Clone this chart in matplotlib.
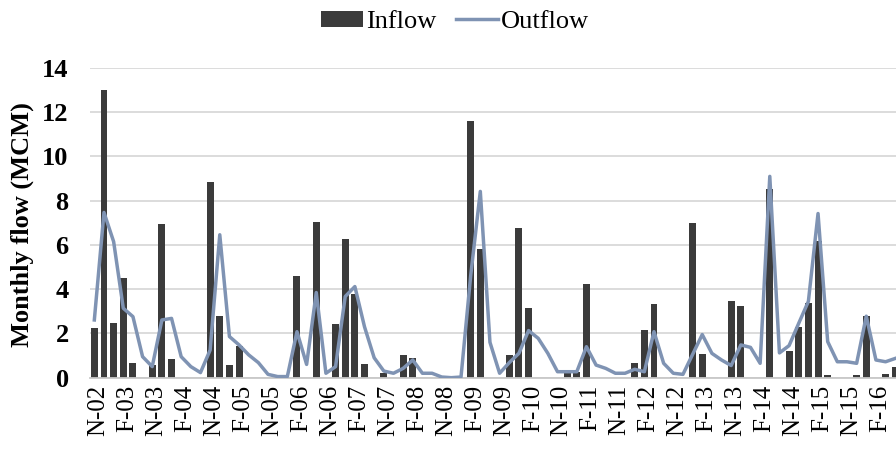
import numpy as np
import matplotlib
matplotlib.use('Agg')
import matplotlib.pyplot as plt
import matplotlib.transforms as mtransforms

# wet-season months (Nov..Apr) from Nov 2002 to Apr 2016
inflow = [2.25, 13.0, 2.45, 4.5, 0.65, 0,
          0.57, 6.97, 0.83, 0, 0, 0,
          8.86, 2.78, 0.56, 1.43, 0, 0,
          0, 0, 0, 4.58, 0, 7.03,
          0, 2.43, 6.27, 3.8, 0.6, 0,
          0.2, 0, 1.03, 0.87, 0, 0,
          0, 0, 0, 11.6, 5.81, 0,
          0, 1.03, 6.76, 3.14, 0, 0,
          0, 0.25, 0.25, 4.22, 0, 0,
          0, 0, 0.65, 2.16, 3.33, 0,
          0.05, 0, 6.98, 1.07, 0, 0,
          3.48, 3.24, 0, 0, 8.55, 0,
          1.22, 2.31, 3.36, 6.2, 0.12, 0,
          0, 0.12, 2.79, 0, 0.18, 0.5]

outflow = [2.61, 7.47, 6.15, 3.14, 2.76, 0.95,
           0.5, 2.61, 2.68, 0.95, 0.5, 0.23,
           1.25, 6.46, 1.86, 1.48, 1.03, 0.68,
           0.15, 0.05, 0.05, 2.08, 0.6, 3.85,
           0.2, 0.5, 3.67, 4.12, 2.3, 0.9,
           0.3, 0.2, 0.42, 0.8, 0.2, 0.2,
           0.03, 0, 0.03, 4.6, 8.42, 1.6,
           0.2, 0.68, 1.1, 2.13, 1.78, 1.1,
           0.27, 0.27, 0.27, 1.4, 0.57, 0.42,
           0.2, 0.2, 0.38, 0.27, 2.08, 0.65,
           0.2, 0.15, 1.05, 1.95, 1.1, 0.8,
           0.55, 1.48, 1.37, 0.65, 9.1, 1.12,
           1.45, 2.46, 3.45, 7.42, 1.63, 0.72,
           0.72, 0.65, 2.78, 0.8, 0.72, 0.87]

# every third month gets a label (Nov and Feb)
tick_labels = ['N-02', 'F-03', 'N-03', 'F-04', 'N-04', 'F-05', 'N-05',
               'F-06', 'N-06', 'F-07', 'N-07', 'F-08', 'N-08', 'F-09',
               'N-09', 'F-10', 'N-10', 'F-11', 'N-11', 'F-12', 'N-12',
               'F-13', 'N-13', 'F-14', 'N-14', 'F-15', 'N-15', 'F-16']

plt.rcParams['font.family'] = ['Liberation Serif', 'DejaVu Serif']

x = np.arange(len(inflow))

fig = plt.figure(figsize=(8.96, 4.5), dpi=100)
ax = fig.add_axes([0.0999, 0.1607, 0.9001, 0.6882])

bars = ax.bar(x, inflow, width=0.72, color='#3b3b3b', label='Inflow', zorder=2)
line, = ax.plot(x, outflow, color='#7f93b3', lw=2.5, label='Outflow', zorder=3)

ax.set_ylim(0, 14)
ax.set_xlim(-0.5, 83.08)
ax.set_yticks(np.arange(0, 15, 2))
ax.yaxis.grid(True, color='#d9d9d9', lw=1.3, zorder=0)
ax.set_axisbelow(True)

for s in ['top', 'right', 'left']:
    ax.spines[s].set_visible(False)
ax.spines['bottom'].set_color('#c8c8c8')
ax.spines['bottom'].set_linewidth(1.3)

ax.set_xticks(x[::3])
ax.set_xticklabels(tick_labels, rotation=90, fontsize=18)
ax.tick_params(axis='x', length=0, pad=5)
ax.tick_params(axis='y', length=0, pad=15, labelsize=19)
for lab in ax.get_yticklabels():
    lab.set_fontweight('bold')

offset = mtransforms.ScaledTranslation(3 / 72, 0, fig.dpi_scale_trans)
for lab in ax.get_xticklabels():
    lab.set_transform(lab.get_transform() + offset)

fig.text(0.025, 0.5, 'Monthly flow (MCM)', rotation=90, ha='center',
         va='center', fontsize=19, fontweight='bold')

fig.legend(handles=[bars, line], loc='center', ncol=2,
           bbox_to_anchor=(455 / 896, 1 - 22 / 450), frameon=False,
           fontsize=19, handlelength=1.6, handleheight=0.6,
           handletextpad=0.1, columnspacing=0.75, borderpad=0.2)

fig.savefig('out.png', dpi=100)
